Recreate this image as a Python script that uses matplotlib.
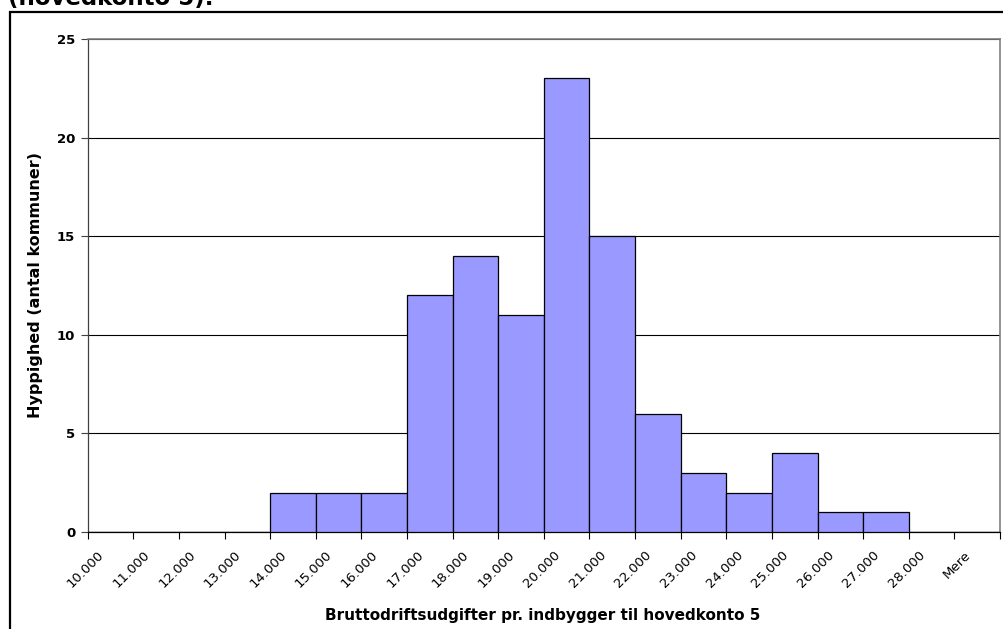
import numpy as np
import matplotlib
matplotlib.use('Agg')
import matplotlib.pyplot as plt
import matplotlib.transforms as mtransforms
from matplotlib.patches import Rectangle

# categories (bin labels) and counts
categories = ['10.000', '11.000', '12.000', '13.000', '14.000', '15.000', '16.000',
              '17.000', '18.000', '19.000', '20.000', '21.000', '22.000', '23.000',
              '24.000', '25.000', '26.000', '27.000', '28.000', 'Mere']
counts = [0, 0, 0, 0, 2, 2, 2, 12, 14, 11, 23, 15, 6, 3, 2, 4, 1, 1, 0, 0]
y_ticks = [0, 5, 10, 15, 20, 25]

plt.rcParams['font.family'] = ['DejaVu Sans']

W, H = 1004, 629
fig = plt.figure(figsize=(W / 100, H / 100), dpi=100)
fig.patch.set_facecolor('white')

# axes placement in pixels
left, right, top, bottom = 87.7, 1000, 39, 532
ax = fig.add_axes([left / W, 1 - bottom / H, (right - left) / W, (bottom - top) / H])

x = np.arange(len(categories))
ax.bar(x, counts, width=1.0, color='#9999FF', edgecolor='black', linewidth=0.9, zorder=3)

ax.set_xlim(-0.5, len(categories) - 0.5)
ax.set_ylim(0, 25)

# grid
ax.set_yticks(y_ticks)
ax.set_yticklabels([str(v) for v in y_ticks], fontsize=9.5, fontweight='bold')
ax.yaxis.grid(True, color='black', linewidth=0.8, zorder=0)
ax.tick_params(axis='y', length=5, width=0.8, color='#404040', pad=4)

# x ticks between categories, labels at category centres
ax.set_xticks(np.arange(-0.5, len(categories), 1.0))
ax.set_xticklabels([])
ax.tick_params(axis='x', which='major', length=5, width=0.8, color='black')
ax.set_xticks(x, minor=True)
ax.set_xticklabels(categories, minor=True, fontsize=9.5, rotation=45,
                   ha='right', va='top', rotation_mode='anchor')
ax.tick_params(axis='x', which='minor', length=0, pad=12)
shift = mtransforms.ScaledTranslation(-13 / 100, 0, fig.dpi_scale_trans)
for lab in ax.get_xticklabels(minor=True):
    lab.set_transform(lab.get_transform() + shift)

ax.spines['left'].set_color('#404040')
ax.spines['left'].set_linewidth(0.9)
ax.spines['bottom'].set_color('black')
ax.spines['bottom'].set_linewidth(0.9)
ax.spines['right'].set_color('#808080')
ax.spines['right'].set_linewidth(1.2)
ax.spines['top'].set_color('#808080')
ax.spines['top'].set_linewidth(1.2)

ax.set_xlabel('Bruttodriftsudgifter pr. indbygger til hovedkonto 5',
              fontsize=11, fontweight='bold')
ax.xaxis.set_label_coords((543 - left) / (right - left), -(608 - bottom) / (bottom - top))
ax.set_ylabel('Hyppighed (antal kommuner)', fontsize=11.5, fontweight='bold')
ax.yaxis.set_label_coords(-(left - 43) / (right - left), 0.5)

# outer chart border (runs off the right and bottom of the image)
fig.patches.append(Rectangle((10 / W, -0.05), 1.2, 1 - 12 / H + 0.05,
                             transform=fig.transFigure, fill=False,
                             edgecolor='black', linewidth=1.6, zorder=10))

# clipped title line from the document
fig.text(8 / W, 1 - 5.5 / H, '(hovedkonto 5).', fontsize=16.5, fontweight='bold',
         ha='left', va='baseline')

fig.savefig('out.png', dpi=100)
